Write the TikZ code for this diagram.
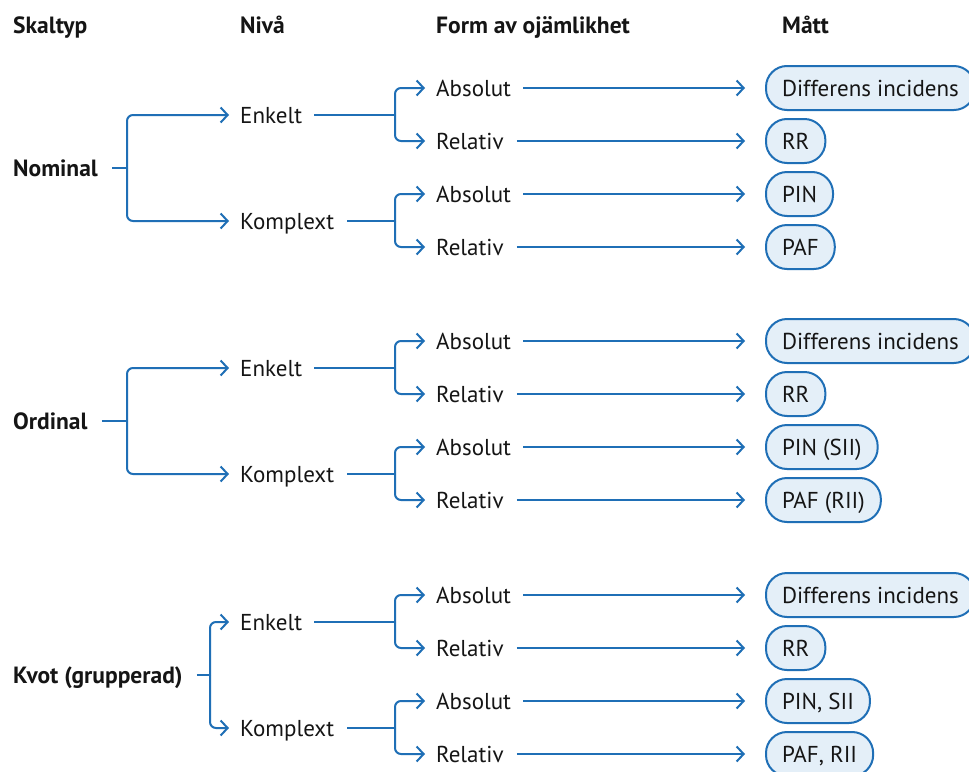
\documentclass[tikz,border=0pt]{standalone}
\usepackage{fontspec}
\setmainfont{PT Sans}
\usetikzlibrary{arrows.meta}
\definecolor{lblue}{HTML}{1F6FB6}
\definecolor{bfill}{HTML}{E4EFF8}
\definecolor{ink}{HTML}{151515}
\tikzset{
  lbl/.style={anchor=west, inner sep=0pt, text height=16pt, text depth=0pt, text=ink, font=\fontsize{23}{27}\selectfont},
  hdr/.style={anchor=base west, inner sep=0pt, text=ink, font=\fontsize{23.5}{27}\selectfont\bfseries},
  top/.style={lbl, font=\fontsize{23.5}{27}\selectfont\bfseries},
  mbox/.style={anchor=west, draw=lblue, line width=2pt, fill=bfill, rounded corners=21pt, minimum height=44pt, inner xsep=16pt, inner ysep=0pt, text height=16pt, text depth=0pt, text=ink, font=\fontsize{23}{27}\selectfont},
  ln/.style={draw=lblue, line width=2pt},
  arr/.style={ln, rounded corners=6pt, -{Straight Barb[length=7pt,width=15pt]}},
}
\newcommand\grp[8]{%
  \node[top] (#1L) at (13,#2) {#3};
  \node[lbl] (#1E) at (240,#2-53) {Enkelt};
  \node[lbl] (#1K) at (240,#2+53) {Komplext};
  \node[lbl] (#1A1) at (436,#2-80) {Absolut};
  \node[lbl] (#1R1) at (436,#2-27) {Relativ};
  \node[lbl] (#1A2) at (436,#2+26) {Absolut};
  \node[lbl] (#1R2) at (436,#2+79) {Relativ};
  \node[mbox] (#1B1) at (765,#2-80) {#5};
  \node[mbox] (#1B2) at (765,#2-27) {#6};
  \node[mbox] (#1B3) at (765,#2+26) {#7};
  \node[mbox] (#1B4) at (765,#2+79) {#8};
  \coordinate (#1j) at (#4,#2);
  \coordinate (#1je) at (395,#2-53);
  \coordinate (#1jk) at (395,#2+53);
  \draw[ln, shorten <=14pt] (#1L.east) -- (#1j);
  \draw[arr, shorten >=11pt] (#1j) |- (#1E.west);
  \draw[arr, shorten >=11pt] (#1j) |- (#1K.west);
  \draw[ln, shorten <=12pt] (#1E.east) -- (#1je);
  \draw[ln, shorten <=13pt] (#1K.east) -- (#1jk);
  \draw[arr, shorten >=11pt] (#1je) |- (#1A1.west);
  \draw[arr, shorten >=11pt] (#1je) |- (#1R1.west);
  \draw[arr, shorten >=11pt] (#1jk) |- (#1A2.west);
  \draw[arr, shorten >=11pt] (#1jk) |- (#1R2.west);
  \draw[arr, shorten <=12pt, shorten >=20pt] (#1A1.east) -- (#1B1.west);
  \draw[arr, shorten <=13pt, shorten >=20pt] (#1R1.east) -- (#1B2.west);
  \draw[arr, shorten <=12pt, shorten >=20pt] (#1A2.east) -- (#1B3.west);
  \draw[arr, shorten <=13pt, shorten >=20pt] (#1R2.east) -- (#1B4.west);
}
\begin{document}
\begin{tikzpicture}[x=1pt,y=-1pt]
\useasboundingbox (0,0) rectangle (969,771);
\fill[white] (0,0) rectangle (969,771);
\node[hdr] (h1) at (13,33) {Skaltyp};
\node[hdr] (h2) at (240,33) {Nivå};
\node[hdr] (h3) at (436,33) {Form av ojämlikhet};
\node[hdr] (h4) at (782,33) {Mått};
\grp{a}{168}{Nominal}{127}{Differens incidens}{RR}{PIN}{PAF}
\grp{b}{421}{Ordinal}{127}{Differens incidens}{RR}{PIN (SII)}{PAF (RII)}
\grp{c}{675}{Kvot (grupperad)}{210}{Differens incidens}{RR}{PIN, SII}{PAF, RII}
\end{tikzpicture}
\end{document}
